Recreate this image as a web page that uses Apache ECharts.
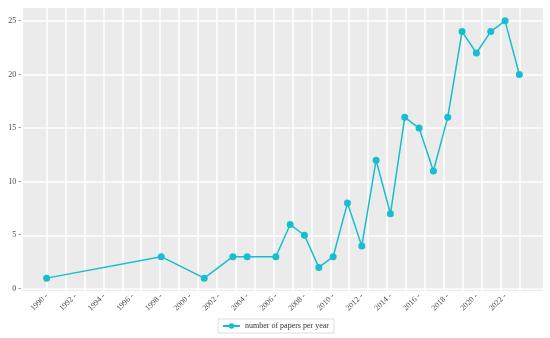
<!DOCTYPE html>
<html>
<head>
<meta charset="utf-8">
<script src="https://cdn.jsdelivr.net/npm/echarts@6/dist/echarts.min.js"></script>
<style>
html,body{margin:0;padding:0;background:#fff;}
#c{width:550px;height:338px;}
</style>
</head>
<body>
<div id="c"></div>
<script>
const years = [1990, 1998, 2001, 2003, 2004, 2006, 2007, 2008, 2009, 2010, 2011, 2012, 2013, 2014, 2015, 2016, 2017, 2018, 2019, 2020, 2021, 2022, 2023];
const papers = [1, 3, 1, 3, 3, 3, 6, 5, 2, 3, 8, 4, 12, 7, 16, 15, 11, 16, 24, 22, 24, 25, 20];
const xTickLabels = [1990, 1992, 1994, 1996, 1998, 2000, 2002, 2004, 2006, 2008, 2010, 2012, 2014, 2016, 2018, 2020, 2022];
const yTickLabels = [0, 5, 10, 15, 20, 25];
const seriesName = 'number of papers per year';

// vertical grid lines: 26 evenly spaced lines spanning the data range
const xGridValues = Array.from({length: 26}, (_, i) => years[0] + i * (years[years.length - 1] - years[0]) / 25);

const font = 'Liberation Serif';
const chart = echarts.init(document.getElementById('c'));
chart.setOption({
  animation: false,
  grid: {left: 23, right: 7, top: 8, bottom: 47, show: true, backgroundColor: '#ebebeb', borderWidth: 0},
  xAxis: {
    type: 'value', min: 1988.35, max: 2024.65,
    axisLine: {show: false},
    axisTick: {show: false, customValues: xGridValues},
    splitLine: {show: true, lineStyle: {color: '#ffffff', width: 1.5}},
    axisLabel: {
      customValues: xTickLabels, rotate: 45, margin: 4,
      fontFamily: font, fontSize: 8, color: '#4d4d4d',
      formatter: v => v + ' -'
    }
  },
  yAxis: {
    type: 'value', min: -0.2, max: 26.2,
    axisLine: {show: false},
    axisTick: {show: false, customValues: yTickLabels},
    splitLine: {show: true, lineStyle: {color: '#ffffff', width: 1.5}},
    axisLabel: {
      customValues: yTickLabels, margin: 2,
      fontFamily: font, fontSize: 8, color: '#4d4d4d',
      formatter: v => v + ' -'
    }
  },
  legend: {
    data: [seriesName], bottom: 5, left: 218,
    itemWidth: 17, itemHeight: 7, itemGap: 5,
    padding: [3, 5, 3, 4],
    borderColor: '#dddddd', borderWidth: 1,
    textStyle: {fontFamily: font, fontSize: 8, color: '#333333'}
  },
  series: [{
    name: seriesName, type: 'line',
    data: years.map((y, i) => [y, papers[i]]),
    symbol: 'circle', symbolSize: 7,
    itemStyle: {color: '#17becf'},
    lineStyle: {color: '#17becf', width: 1.5}
  }]
});
</script>
</body>
</html>
